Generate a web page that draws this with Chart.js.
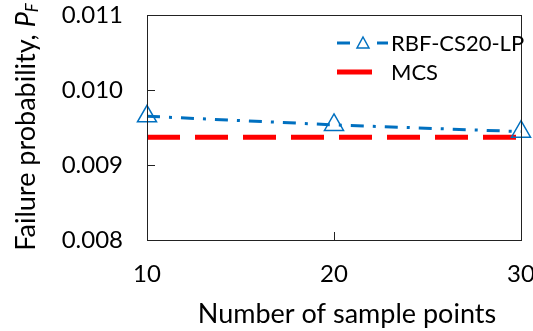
<!DOCTYPE html>
<html>
<head>
<meta charset="utf-8">
<script src="https://cdn.jsdelivr.net/npm/chart.js@4.4.0/dist/chart.umd.min.js"></script>
<style>
  html, body { margin: 0; padding: 0; background: #fff; }
  #wrap { width: 533px; height: 331px; }
</style>
</head>
<body>
<div id="wrap"><canvas id="lineChart" width="533" height="331"></canvas></div>
<script>
const samplePoints = [10, 20, 30];
const rbfValues = [0.00965, 0.009535, 0.009445];
const mcsValues = [0.00937, 0.00937, 0.00937];
const yTicks = [0.008, 0.009, 0.010, 0.011];
const seriesNames = ['RBF-CS20-LP', 'MCS'];
const xTitle = 'Number of sample points';
const yTitle = 'Failure probability, ';

const fontFam = 'Lato, "DejaVu Sans", sans-serif';
const blue = '#0070C0', red = '#FF0000';

// frame, inward ticks, axis titles and the little legend box
const extras = {
  id: 'extras',
  afterDraw(chart) {
    const ctx = chart.ctx, a = chart.chartArea;
    const xs = chart.scales.x, ys = chart.scales.y;
    ctx.save();
    ctx.strokeStyle = '#222';
    ctx.lineWidth = 1;
    ctx.strokeRect(a.left + 0.5, a.top + 0.5, a.right - a.left, a.bottom - a.top);
    ctx.beginPath();
    [0.009, 0.010].forEach(v => {
      let y = Math.round(ys.getPixelForValue(v)) + 0.5;
      ctx.moveTo(a.left, y); ctx.lineTo(a.left + 8, y);
    });
    let x20 = Math.round(xs.getPixelForValue(20)) + 0.5;
    ctx.moveTo(x20, a.bottom); ctx.lineTo(x20, a.bottom - 8);
    ctx.stroke();

    ctx.fillStyle = '#000';
    ctx.textBaseline = 'middle';
    ctx.textAlign = 'center';
    ctx.font = '27px ' + fontFam;
    ctx.fillText(xTitle, 347, 314);

    // rotated y title with italic P and subscript F
    ctx.translate(26, 127);
    ctx.rotate(-Math.PI / 2);
    ctx.textAlign = 'left';
    ctx.font = '27px ' + fontFam;
    let w1 = ctx.measureText(yTitle).width;
    ctx.font = 'italic 27px ' + fontFam;
    let w2 = ctx.measureText('P').width;
    ctx.font = 'italic 17px ' + fontFam;
    let w3 = ctx.measureText('F').width;
    let start = -(w1 + w2 + w3) / 2;
    ctx.font = '27px ' + fontFam;
    ctx.fillText(yTitle, start, 0);
    ctx.font = 'italic 27px ' + fontFam;
    ctx.fillText('P', start + w1, 0);
    ctx.font = 'italic 17px ' + fontFam;
    ctx.fillText('F', start + w1 + w2, 7);
    ctx.restore();

    // legend
    ctx.save();
    ctx.lineWidth = 3;
    ctx.strokeStyle = blue;
    ctx.beginPath();
    ctx.moveTo(337, 43); ctx.lineTo(350, 43);
    ctx.moveTo(377, 43); ctx.lineTo(388, 43);
    ctx.stroke();
    ctx.lineWidth = 1.5;
    ctx.beginPath();
    ctx.moveTo(363, 37); ctx.lineTo(369, 48); ctx.lineTo(357, 48); ctx.closePath();
    ctx.stroke();
    ctx.strokeStyle = red;
    ctx.lineWidth = 5;
    ctx.beginPath();
    ctx.moveTo(337, 72); ctx.lineTo(372, 72);
    ctx.stroke();
    ctx.fillStyle = '#000';
    ctx.font = '22px ' + fontFam;
    ctx.textBaseline = 'middle';
    ctx.fillText(seriesNames[0], 391, 44);
    ctx.fillText(seriesNames[1], 391, 73);
    ctx.restore();
  }
};

const ctxLine = document.getElementById('lineChart').getContext('2d');
const lineChart = new Chart(ctxLine, {
  type: 'line',
  data: {
    datasets: [
      {
        label: seriesNames[0],
        data: samplePoints.map((x, i) => ({x: x, y: rbfValues[i]})),
        borderColor: blue,
        borderWidth: 3,
        borderDash: [13, 9, 3, 9],
        pointStyle: 'triangle',
        pointRadius: 11,
        pointBorderWidth: 1.5,
        pointBorderColor: blue,
        pointBackgroundColor: 'rgba(0,0,0,0)',
        clip: false
      },
      {
        label: seriesNames[1],
        data: samplePoints.map((x, i) => ({x: x, y: mcsValues[i]})),
        borderColor: red,
        borderWidth: 5,
        borderDash: [33, 15],
        pointRadius: 0,
        clip: false
      }
    ]
  },
  options: {
    responsive: false,
    animation: false,
    layout: { autoPadding: false, padding: { top: 15, right: 12, left: 0, bottom: 0 } },
    plugins: { legend: { display: false }, tooltip: { enabled: false } },
    scales: {
      x: {
        type: 'linear',
        min: 10, max: 30,
        grid: { display: false, drawTicks: false },
        border: { display: false },
        ticks: {
          stepSize: 10, padding: 20, color: '#000',
          font: { family: fontFam, size: 24 }
        },
        afterFit: s => { s.height = 91; s.paddingLeft = 0; s.paddingRight = 0; }
      },
      y: {
        min: 0.008, max: 0.011,
        grid: { display: false, drawTicks: false },
        border: { display: false },
        afterBuildTicks: s => { s.ticks = yTicks.map(v => ({value: v})); },
        ticks: {
          padding: 24, color: '#000',
          font: { family: fontFam, size: 24 },
          callback: v => v.toFixed(3)
        },
        afterFit: s => { s.width = 147; s.paddingTop = 0; s.paddingBottom = 0; }
      }
    }
  },
  plugins: [extras]
});
</script>
</body>
</html>
